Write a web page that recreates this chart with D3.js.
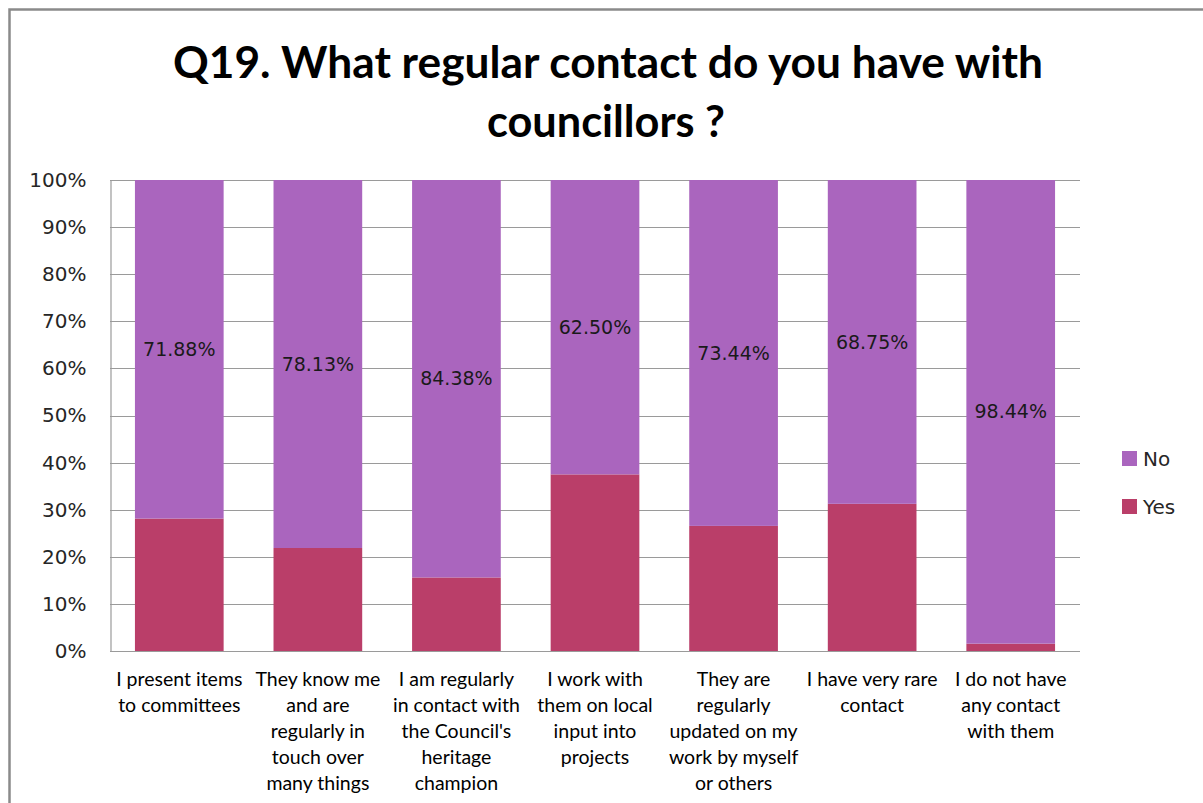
<!DOCTYPE html>
<html>
<head>
<meta charset="utf-8">
<script src="https://cdn.jsdelivr.net/npm/d3@7"></script>
<style>
  html, body { margin: 0; padding: 0; background: #fff; }
  svg { display: block; }
</style>
</head>
<body>
<svg id="chart" width="1203" height="803"></svg>
<script>
// Survey question Q19: share of respondents answering Yes / No per statement
const titleLines = ["Q19. What regular contact do you have with", "councillors ?"];

const categories = [
  ["I present items", "to committees"],
  ["They know me", "and are", "regularly in", "touch over", "many things"],
  ["I am regularly", "in contact with", "the Council's", "heritage", "champion"],
  ["I work with", "them on local", "input into", "projects"],
  ["They are", "regularly", "updated on my", "work by myself", "or others"],
  ["I have very rare", "contact"],
  ["I do not have", "any contact", "with them"]
];

const noValues  = [71.88, 78.13, 84.38, 62.50, 73.44, 68.75, 98.44];
const yesValues = [28.12, 21.87, 15.62, 37.50, 26.56, 31.25, 1.56];

const seriesNames = ["Yes", "No"];
const seriesColors = { Yes: "#BA3E69", No: "#AA65BE" };

const yTicks = [0, 10, 20, 30, 40, 50, 60, 70, 80, 90, 100];

const svg = d3.select("#chart");

// outer chart frame
svg.append("path")
  .attr("d", "M9.5,803 L9.5,9.5 L1203,9.5")
  .attr("fill", "none")
  .attr("stroke", "#8a8a8a")
  .attr("stroke-width", 2.5);

// title
const title = svg.append("g");
title.append("text")
  .attr("x", 608).attr("y", 78)
  .attr("text-anchor", "middle")
  .attr("font-family", "Lato, 'Open Sans', sans-serif")
  .attr("font-weight", 700)
  .attr("font-size", 43)
  .attr("textLength", 870)
  .attr("lengthAdjust", "spacingAndGlyphs")
  .attr("fill", "#000")
  .text(titleLines[0]);
title.append("text")
  .attr("x", 606).attr("y", 137)
  .attr("text-anchor", "middle")
  .attr("font-family", "Lato, 'Open Sans', sans-serif")
  .attr("font-weight", 700)
  .attr("font-size", 43)
  .attr("textLength", 238)
  .attr("lengthAdjust", "spacingAndGlyphs")
  .attr("fill", "#000")
  .text(titleLines[1]);

const plot = { left: 110, right: 1080, top: 180, bottom: 651 };

const x = d3.scaleBand()
  .domain(d3.range(categories.length))
  .range([plot.left, plot.right])
  .paddingInner(0.36)
  .paddingOuter(0.18);

const y = d3.scaleLinear()
  .domain([0, 100])
  .range([plot.bottom, plot.top]);

// horizontal gridlines
svg.append("g")
  .selectAll("line")
  .data(yTicks)
  .join("line")
  .attr("x1", plot.left).attr("x2", plot.right)
  .attr("y1", d => Math.round(y(d)) + 0.5)
  .attr("y2", d => Math.round(y(d)) + 0.5)
  .attr("stroke", "#9a9a9a")
  .attr("stroke-width", 1.2);

// y axis
const yAxis = svg.append("g")
  .attr("transform", `translate(${plot.left + 0.5},0)`)
  .call(d3.axisLeft(y).tickValues(yTicks).tickSize(0).tickPadding(24).tickFormat(d => d + "%"));
yAxis.select(".domain").attr("stroke", "#9a9a9a").attr("stroke-width", 1.2);
yAxis.selectAll("text")
  .attr("font-family", "'DejaVu Sans', sans-serif")
  .attr("font-size", 20)
  .attr("fill", "#262626");

// stacked bars
const rows = categories.map((c, i) => ({ i, Yes: yesValues[i], No: noValues[i] }));
const stacked = d3.stack().keys(seriesNames)(rows);

const bars = svg.append("g");
stacked.forEach(layer => {
  bars.append("g")
    .attr("fill", seriesColors[layer.key])
    .selectAll("rect")
    .data(layer)
    .join("rect")
    .attr("x", d => x(d.data.i))
    .attr("width", x.bandwidth())
    .attr("y", d => y(d[1]))
    .attr("height", d => y(d[0]) - y(d[1]));
});

// value labels on the No segments
const noLayer = stacked.find(l => l.key === "No");
svg.append("g")
  .selectAll("text")
  .data(noLayer)
  .join("text")
  .attr("x", d => x(d.data.i) + x.bandwidth() / 2)
  .attr("y", d => (y(d[0]) + y(d[1])) / 2)
  .attr("dy", "0.35em")
  .attr("text-anchor", "middle")
  .attr("font-family", "'DejaVu Sans', sans-serif")
  .attr("font-size", 19)
  .attr("fill", "#1a1a1a")
  .text(d => d.data.No.toFixed(2) + "%");

// bottom axis line
svg.append("line")
  .attr("x1", plot.left).attr("x2", plot.right)
  .attr("y1", plot.bottom + 0.5).attr("y2", plot.bottom + 0.5)
  .attr("stroke", "#9a9a9a")
  .attr("stroke-width", 1.2);

// category labels
const xl = svg.append("g")
  .selectAll("text")
  .data(categories)
  .join("text")
  .attr("text-anchor", "middle")
  .attr("font-family", "Lato, 'Open Sans', sans-serif")
  .attr("font-size", 19.5)
  .attr("fill", "#000")
  .attr("transform", (d, i) => `translate(${x(i) + x.bandwidth() / 2},686)`);
xl.selectAll("tspan")
  .data(d => d)
  .join("tspan")
  .attr("x", 0)
  .attr("y", (d, j) => j * 26)
  .text(d => d);

// legend
const legendItems = ["No", "Yes"];
const legend = svg.append("g")
  .selectAll("g")
  .data(legendItems)
  .join("g")
  .attr("transform", (d, i) => `translate(1122,${451 + i * 48})`);
legend.append("rect")
  .attr("width", 15).attr("height", 15)
  .attr("fill", d => seriesColors[d]);
legend.append("text")
  .attr("x", 21).attr("y", 7.5)
  .attr("dy", "0.36em")
  .attr("font-family", "'DejaVu Sans', sans-serif")
  .attr("font-size", 20)
  .attr("fill", "#262626")
  .text(d => d);
</script>
</body>
</html>
